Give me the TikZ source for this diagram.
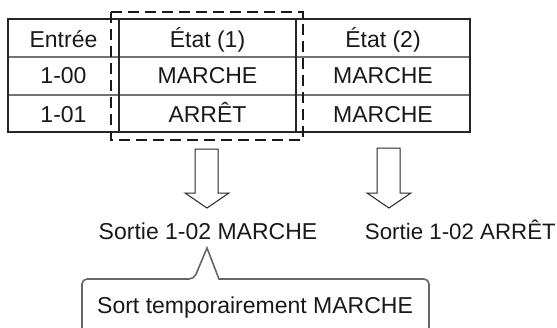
\documentclass[tikz,border=0pt]{standalone}
\usepackage{fontspec}
\setmainfont{Liberation Sans}
\begin{document}
\begin{tikzpicture}[x=1pt,y=-1pt,
  txt/.style={font=\fontsize{23}{27}\selectfont, inner sep=0pt, text height=16.5pt, text depth=0pt, text=black!90},
  grid/.style={draw=black!85, line width=1.1pt},
  inner/.style={draw=black!55, line width=1.1pt},
  dashbox/.style={draw=black!90, line width=2pt, dash pattern=on 11pt off 6pt},
  hollow/.style={draw=black!85, line width=1pt, fill=white, line join=miter},
  callout/.style={draw=black!60, line width=1.6pt, rounded corners=5pt}]
\useasboundingbox (0,0) rectangle (557,327);
% table
\coordinate (tl) at (8,19);
\coordinate (br) at (470,132);
\draw[inner] (8,57) -- (470,57);
\draw[inner] (8,95) -- (470,95);
\draw[grid] (119,19) -- (119,132);
\draw[grid] (296,19) -- (296,132);
\draw[grid] (tl) rectangle (br);
% dashed selection
\draw[dashbox] (111,12) rectangle (303,140);
% cells
\node[txt] (h0) at (63.5,39) {Entrée};
\node[txt] (h1) at (207.5,39) {État (1)};
\node[txt] (h2) at (383,39) {État (2)};
\node[txt] (a0) at (63.5,75.5) {1-00};
\node[txt] (a1) at (207.5,75.5) {MARCHE};
\node[txt] (a2) at (383,75.5) {MARCHE};
\node[txt] (b0) at (63.5,114) {1-01};
\node[txt] (b1) at (207.5,114) {ARRÊT};
\node[txt] (b2) at (383,114) {MARCHE};
% hollow arrows
\draw[hollow] (195,149) -- (218,149) -- (218,193) -- (229,193) -- (207,208) -- (185,193) -- (195,193) -- cycle;
\draw[hollow] (377,148) -- (400,148) -- (400,193) -- (411,193) -- (389,208) -- (367,193) -- (377,193) -- cycle;
% outputs
\node[txt] (o1) at (208,231.5) {Sortie 1-02 MARCHE};
\node[txt, anchor=east, font=\fontsize{22.3}{27}\selectfont] (o2) at (556,231.5) {Sortie 1-02 ARRÊT};
% callout
\draw[callout] (82,330) -- (82,279) -- (194,279) [sharp corners] -- (207,248) -- (219,279) [rounded corners=5pt] -- (429,279) -- (429,330);
\node[txt, anchor=west] (c) at (97,305) {Sort temporairement MARCHE};
\end{tikzpicture}
\end{document}
